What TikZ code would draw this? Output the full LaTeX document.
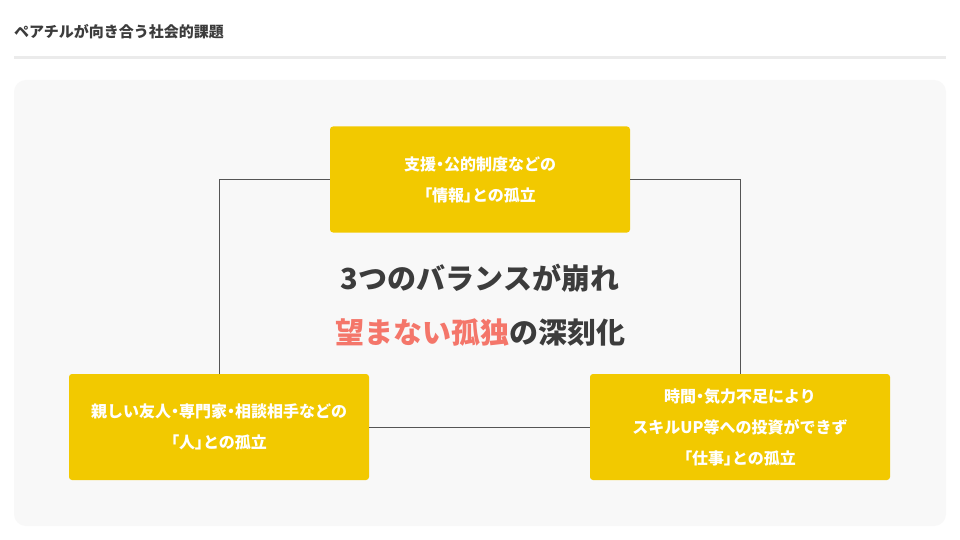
\documentclass[tikz,border=0pt]{standalone}
\usepackage{fontspec}
\setmainfont{Noto Sans CJK JP}
\newfontfamily\jpp{Noto Sans CJK JP}[RawFeature=+palt]
\newcommand{\pd}{{\jpp\bfseries ・}}
\newcommand{\pl}{{\jpp\bfseries 「}}
\newcommand{\pr}{{\jpp\bfseries 」}}
\definecolor{boxyellow}{HTML}{F2C900}
\definecolor{panelbg}{HTML}{F8F8F8}
\definecolor{darktext}{HTML}{3C3C3C}
\definecolor{salmon}{HTML}{F4766A}
\definecolor{rulegray}{HTML}{EBEBEB}
\definecolor{linegray}{HTML}{555555}
\tikzset{
  issuebox/.style={fill=boxyellow, rounded corners=3pt, minimum width=300pt, minimum height=106pt,
    text=white, align=center, font=\bfseries\fontsize{16}{31}\selectfont, inner sep=0pt},
  conn/.style={draw=linegray, line width=0.9pt},
}
\begin{document}
\begin{tikzpicture}[x=1pt,y=-1pt]
\useasboundingbox (0,0) rectangle (960,540);
\fill[white] (0,0) rectangle (960,540);
\node[anchor=west, text=darktext, font=\bfseries\fontsize{15}{17}\selectfont, inner sep=0pt] (title) at (14,32) {ペアチルが向き合う社会的課題};
\draw[rulegray, line width=3pt] (14,58) -- (946,58);
\fill[panelbg, rounded corners=12pt] (14,80) rectangle (946,526);
\node[issuebox] (info) at (480,179.5) {支援\pd 公的制度などの\\\pl 情報\pr との孤立};
\node[issuebox] (people) at (219,427) {親しい友人\pd 専門家\pd 相談相手などの\\\pl 人\pr との孤立};
\node[issuebox] (work) at (740,427) {時間\pd 気力不足により\\スキルUP等への投資ができず\\\pl 仕事\pr との孤立};
\coordinate (cl) at (219,179.5);
\coordinate (cr) at (740,179.5);
\draw[conn] (info.west) -- (cl) -- (people.north);
\draw[conn] (info.east) -- (cr) -- (work.north);
\draw[conn] (people.east) -- (work.west);
\node[align=center, font=\bfseries\fontsize{29}{54}\selectfont, text=darktext, inner sep=0pt] (center) at (480,305)
  {3つのバランスが崩れ\\\textcolor{salmon}{望まない孤独}の深刻化};
\end{tikzpicture}
\end{document}
